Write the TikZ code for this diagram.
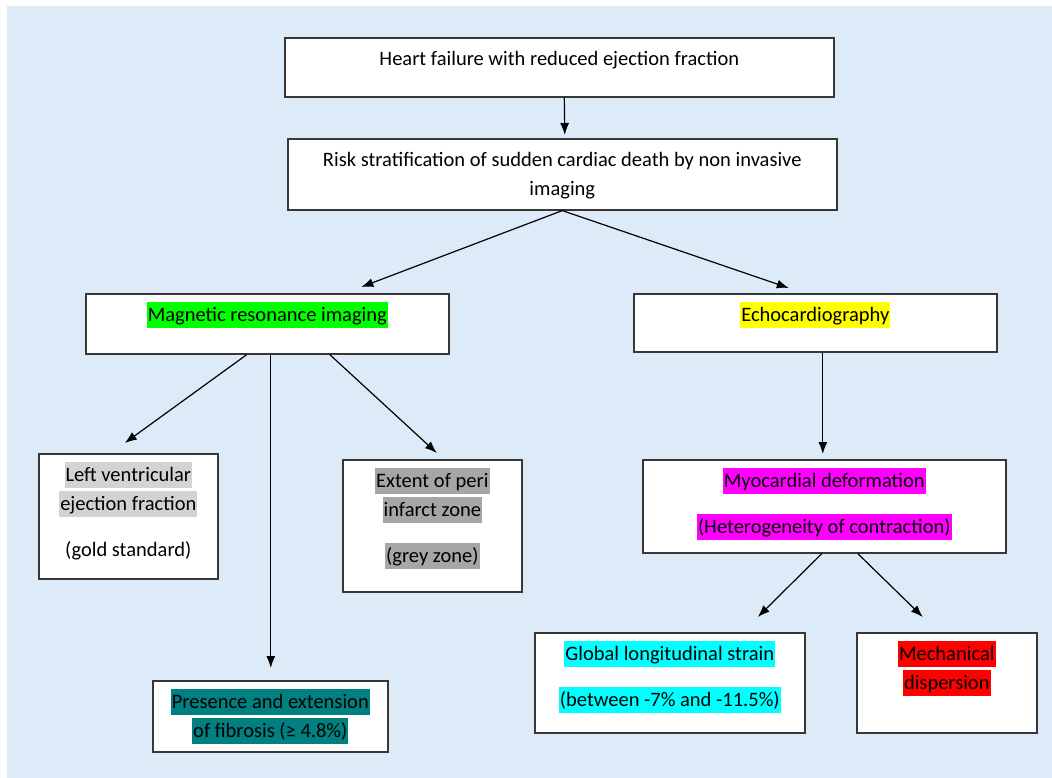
\documentclass[tikz,border=0pt]{standalone}
\usepackage{fontspec}
\setmainfont{Carlito}
\usepackage{tikz}
\usetikzlibrary{
  calc,%
  arrows.meta,%
  positioning
}
\definecolor{panelblue}{RGB}{221,234,247}
\definecolor{boxline}{RGB}{55,55,55}
\definecolor{hlgreen}{RGB}{0,255,0}
\definecolor{hlyellow}{RGB}{255,255,0}
\definecolor{hllgrey}{RGB}{211,211,211}
\definecolor{hldgrey}{RGB}{166,166,166}
\definecolor{hlteal}{RGB}{0,128,128}
\definecolor{hlmagenta}{RGB}{255,0,255}
\definecolor{hlcyan}{RGB}{0,255,255}
\definecolor{hlred}{RGB}{255,0,0}
% highlighted line of text, as in the word processor
\newcommand{\hlstrut}{\rule[-6pt]{0pt}{26pt}}
\newcommand{\hl}[2]{{\setlength{\fboxsep}{0pt}\colorbox{#1}{\hlstrut\kern1pt #2\kern1pt}}}
% box contents: width, height, lines
\newcommand{\boxtext}[3]{\parbox[t][#2][t]{#1}{\centering\vspace*{8pt}\hlstrut #3}}
\tikzset{>={Latex[length=12pt,width=9pt]}}
\tikzset{font=\fontsize{20.5pt}{29pt}\selectfont}
\tikzset{flowbox/.style={draw=boxline, line width=1.6pt, fill=white,
    inner sep=0pt, anchor=north west}}
\tikzset{flowarrow/.style={->, line width=1.2pt}}

\begin{document}
\begin{tikzpicture}[x=1pt, y=-1pt]
  \useasboundingbox (0,0) rectangle (1052,778);%
  \fill[panelblue] (7,6) rectangle (1052,778);%
  % top of the chart
  \node[flowbox] (hf) at (284,37) {\boxtext{549pt}{59pt}{Heart failure with reduced ejection fraction}};%
  \node[flowbox] (risk) at (287,138) {\boxtext{549pt}{71pt}{Risk stratification of sudden cardiac death by non invasive\\ imaging}};%
  % two imaging methods
  \node[flowbox] (mri) at (85,293) {\boxtext{363pt}{60pt}{\hl{hlgreen}{Magnetic resonance imaging}}};%
  \node[flowbox] (echo) at (633,293) {\boxtext{363pt}{58pt}{\hl{hlyellow}{Echocardiography}}};%
  % what MRI gives
  \node[flowbox] (lvef) at (38,453) {\boxtext{179pt}{125pt}{\hl{hllgrey}{Left ventricular}\\ \hl{hllgrey}{ejection fraction}\\[17pt] (gold standard)}};%
  \node[flowbox] (peri) at (342,459) {\boxtext{179pt}{132pt}{\hl{hldgrey}{Extent of peri}\\ \hl{hldgrey}{infarct zone}\\[17pt] \hl{hldgrey}{(grey zone)}}};%
  \node[flowbox] (fib) at (152,680) {\boxtext{235pt}{71pt}{\hl{hlteal}{Presence and extension}\\ \hl{hlteal}{of fibrosis (≥ 4.8\%)}}};%
  % what echo gives
  \node[flowbox] (myo) at (642,459) {\boxtext{363pt}{93pt}{\hl{hlmagenta}{Myocardial deformation}\\[17pt] \hl{hlmagenta}{(Heterogeneity of contraction)}}};%
  \node[flowbox] (gls) at (534,632) {\boxtext{270pt}{100pt}{\hl{hlcyan}{Global longitudinal strain}\\[17pt] \hl{hlcyan}{(between -7\% and -11.5\%)}}};%
  \node[flowbox] (mech) at (856,632) {\boxtext{180pt}{100pt}{\hl{hlred}{Mechanical}\\ \hl{hlred}{dispersion}}};%
  % arrows
  \draw[flowarrow] ([xshift=5pt]hf.south) -- ([xshift=2.5pt,yshift=3pt]risk.north);%
  \draw[flowarrow] (risk.south) -- ([xshift=94pt,yshift=6pt]mri.north);%
  \draw[flowarrow] (risk.south) -- ([xshift=-26.5pt,yshift=5pt]echo.north);%
  \draw[flowarrow] ([xshift=-20.5pt]mri.south) -- ([xshift=-3.5pt,yshift=10pt]lvef.north);%
  \draw[flowarrow] ([xshift=3.5pt]mri.south) -- ([xshift=0.5pt,yshift=12pt]fib.north);%
  \draw[flowarrow] ([xshift=62.5pt]mri.south) -- ([xshift=4.5pt,yshift=6pt]peri.north);%
  \draw[flowarrow] ([xshift=7.5pt]echo.south) -- ([xshift=-1.5pt,yshift=5pt]myo.north);%
  \draw[flowarrow] ([xshift=-2.5pt]myo.south) -- ([xshift=88pt,yshift=15pt]gls.north);%
  \draw[flowarrow] ([xshift=33.5pt]myo.south) -- ([xshift=-24pt,yshift=15pt]mech.north);%
\end{tikzpicture}
\end{document}
